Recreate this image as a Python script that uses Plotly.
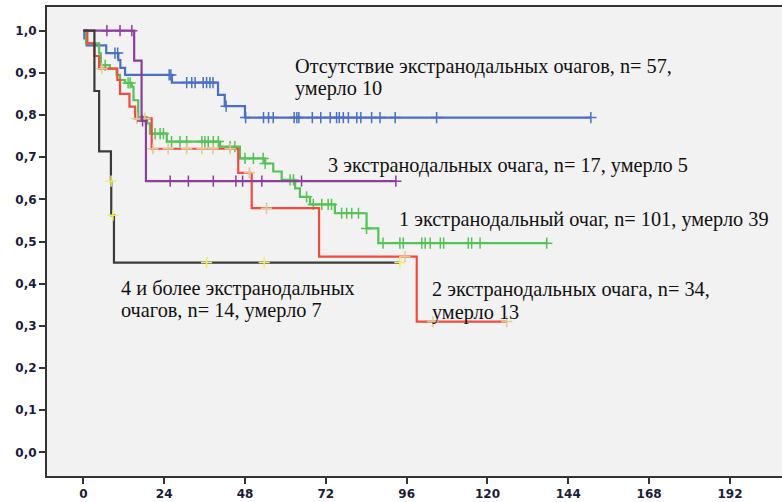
import plotly.graph_objects as go

# ---- data (months, cumulative survival) ----
blue_times = [0, 0.3, 1.0, 6.8, 10.4, 11.0, 12.4, 26.3, 40.0, 42.0, 48.0]
blue_surv = [1.0, 0.982, 0.965, 0.947, 0.93, 0.912, 0.895, 0.877, 0.848, 0.821, 0.794]
blue_end = 150.7
blue_cens = [9.4, 10.2, 25.5, 26.0, 30.7, 32.2, 33.2, 35.6, 36.6, 37.6, 38.5, 42.4,
             48.2, 53.5, 55.0, 56.4, 62.6, 63.4, 64.0, 68.0, 70.5, 73.3, 75.2, 76.0,
             77.2, 78.7, 81.2, 82.4, 85.6, 88.1, 92.6, 104.9, 150.7]

green_times = [0, 0.8, 4.7, 5.2, 7.9, 9.9, 10.9, 12.4, 14.4, 14.9, 16.3, 18.8, 19.8,
               24.8, 40.6, 46.5, 54.0, 56.4, 58.9, 62.9, 64.3, 67.3, 74.7, 84.1, 87.6]
green_surv = [1.0, 0.97, 0.946, 0.918, 0.91, 0.895, 0.883, 0.876, 0.867, 0.835, 0.795,
              0.78, 0.756, 0.737, 0.725, 0.697, 0.685, 0.666, 0.646, 0.626, 0.606,
              0.588, 0.567, 0.531, 0.496]
green_end = 137.6
green_cens = [6.5, 13.3, 13.9, 21.3, 22.8, 23.8, 26.2, 28.7, 30.7, 35.2, 36.1, 37.1,
              38.6, 40.1, 43.6, 45.0, 48.0, 50.5, 53.4, 54.0, 61.4, 62.4, 66.3, 68.3,
              70.8, 72.7, 73.7, 76.7, 78.2, 79.7, 81.7, 84.1, 89.0, 94.0, 95.0, 100.5,
              101.5, 103.0, 106.0, 107.0, 114.3, 115.3, 117.8, 137.6]

red_times = [0, 1.2, 3.3, 4.7, 10.1, 10.9, 13.7, 15.4, 20.3, 46.0, 50.0, 70.0, 99.0]
red_surv = [1.0, 0.97, 0.94, 0.91, 0.883, 0.85, 0.82, 0.792, 0.72, 0.663, 0.579,
            0.464, 0.31]
red_end = 125.7
red_cens = [5.5, 15.9, 18.3, 20.7, 25.2, 30.7, 35.2, 38.5, 43.6, 49.3, 54.4, 95.5,
            103.8, 125.7]

purple_times = [0, 15.1, 17.3, 18.6]
purple_surv = [1.0, 0.929, 0.786, 0.643]
purple_end = 92.8
purple_cens = [7.0, 10.9, 14.4, 17.6, 25.8, 31.2, 38.6, 45.3, 47.3, 53.0, 64.8, 92.8]

black_times = [0, 3.3, 4.7, 8.2, 8.3, 9.1]
black_surv = [1.0, 0.857, 0.714, 0.643, 0.5625, 0.45]
black_end = 94.0
black_cens = [8.25, 8.8, 36.6, 53.7, 94.0]

x_ticks = [0, 24, 48, 72, 96, 120, 144, 168, 192]
y_ticks = [0.0, 0.1, 0.2, 0.3, 0.4, 0.5, 0.6, 0.7, 0.8, 0.9, 1.0]
y_ticktext = ["0,0", "0,1", "0,2", "0,3", "0,4", "0,5", "0,6", "0,7", "0,8", "0,9", "1,0"]

label_lines = [
    "Отсутствие экстранодальных очагов, n= 57,",
    "умерло 10",
    "3 экстранодальных очага, n= 17, умерло 5",
    "1 экстранодальный очаг, n= 101, умерло 39",
    "2 экстранодальных очага, n= 34,",
    "умерло 13",
    "4 и более экстранодальных",
    "очагов, n= 14, умерло 7",
]
# placement of each label line (x in months, y in survival units)
label_pos = [
    (62.3, 0.916), (62.3, 0.864),
    (72.1, 0.681),
    (93.1, 0.553),
    (103.0, 0.385), (103.0, 0.331),
    (10.6, 0.388), (10.6, 0.336),
]


def surv_at(times, surv, t):
    val = surv[0]
    for ti, si in zip(times, surv):
        if ti <= t:
            val = si
    return val


groups = [
    (blue_times, blue_surv, blue_end, blue_cens, "#4a6fc7", "#4a6fc7"),
    (green_times, green_surv, green_end, green_cens, "#55c255", "#55c255"),
    (red_times, red_surv, red_end, red_cens, "#f24a40", "#e2c894"),
    (purple_times, purple_surv, purple_end, purple_cens, "#8d3d9b", "#8d3d9b"),
    (black_times, black_surv, black_end, black_cens, "#3a3a3a", "#f0ec6a"),
]

fig = go.Figure()
for times, surv, end, cens, col, ccol in groups:
    xs = list(times) + [end]
    ys = list(surv) + [surv[-1]]
    fig.add_trace(go.Scatter(x=xs, y=ys, mode="lines", line=dict(color=col, width=2.2, shape="hv"),
                             showlegend=False, hoverinfo="skip"))
    fig.add_trace(go.Scatter(x=cens, y=[surv_at(times, surv, t) for t in cens], mode="markers",
                             marker=dict(symbol="cross-thin", size=8,
                                         line=dict(color=ccol, width=1.5)),
                             showlegend=False, hoverinfo="skip"))

for text, (xv, yv) in zip(label_lines, label_pos):
    fig.add_annotation(x=xv, y=yv, xref="x", yref="y", text=text, showarrow=False,
                       xanchor="left", yanchor="middle", align="left",
                       font=dict(family="Liberation Serif", size=20.3, color="#111111"))

fig.update_layout(
    width=782, height=502,
    margin=dict(l=47, r=0, t=7, b=26),
    paper_bgcolor="white", plot_bgcolor="#f2f2f2",
    showlegend=False,
)
fig.update_xaxes(range=[-10.78, 207.45], tickvals=x_ticks, ticktext=[str(v) for v in x_ticks],
                 showgrid=False, zeroline=False, showline=True, linecolor="#333333",
                 linewidth=2, mirror=True, ticks="outside", ticklen=6, tickwidth=1.5,
                 tickcolor="#333333",
                 tickfont=dict(family="DejaVu Sans", size=12, color="#1b1b3a", weight="bold"))
fig.update_yaxes(range=[-0.0562, 1.0562], tickvals=y_ticks, ticktext=y_ticktext,
                 showgrid=False, zeroline=False, showline=True, linecolor="#333333",
                 linewidth=2, mirror=False, ticks="outside", ticklen=6, tickwidth=1.5,
                 tickcolor="#333333",
                 tickfont=dict(family="DejaVu Sans", size=12, color="#1b1b3a", weight="bold"))

fig.write_html("out.html", config={"displayModeBar": False},
               post_script="document.body.style.margin='0';")
